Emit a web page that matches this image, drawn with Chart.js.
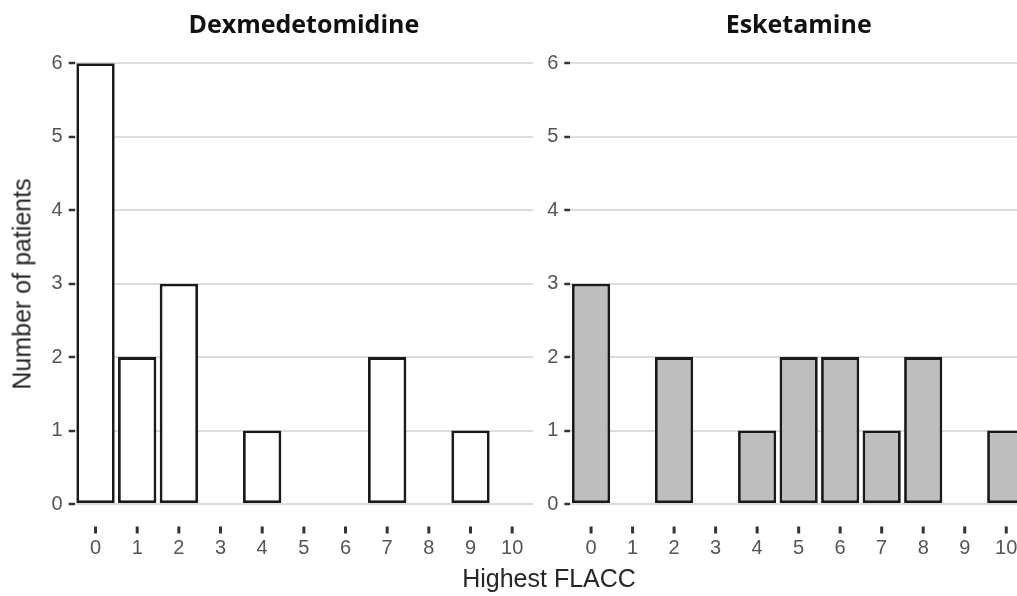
<!DOCTYPE html>
<html>
<head>
<meta charset="utf-8">
<script src="https://cdn.jsdelivr.net/npm/chart.js@4/dist/chart.umd.min.js"></script>
<style>
  html, body { margin: 0; padding: 0; background: #fff; overflow: hidden; }
  #wrap { position: relative; width: 1017px; height: 596px; overflow: hidden; }
  canvas { position: absolute; top: 0; }
  #cLeft { left: 0; }
  #cRight { left: 500px; }
  .axis-title { position: absolute; font-family: 'Liberation Sans', Arial, sans-serif; font-size: 25px; color: #262626; white-space: nowrap; }
  #yTitle { left: 22px; top: 284px; transform: translate(-50%, -50%) rotate(-90deg); }
  #xTitle { left: 549px; top: 578px; transform: translate(-50%, -50%); }
</style>
</head>
<body>
<div id="wrap">
  <canvas id="cLeft" width="533" height="596"></canvas>
  <canvas id="cRight" width="527" height="596"></canvas>
  <div class="axis-title" id="yTitle">Number of patients</div>
  <div class="axis-title" id="xTitle">Highest FLACC</div>
</div>
<script>
// ---- data ----
const flaccScores = ['0', '1', '2', '3', '4', '5', '6', '7', '8', '9', '10'];
const dexCounts = [6, 2, 3, 0, 1, 0, 0, 2, 0, 1, 0];
const eskCounts = [3, 0, 2, 0, 1, 2, 2, 1, 2, 0, 1];
const panelTitles = ['Dexmedetomidine', 'Esketamine'];
const yMax = 6;

Chart.defaults.font.family = "'Liberation Sans', Arial, sans-serif";

// small detached tick dashes under each category (ggplot style)
const xTickMarks = {
  id: 'xTickMarks',
  afterDraw(chart) {
    const sc = chart.scales.x;
    const ctx = chart.ctx;
    ctx.save();
    ctx.strokeStyle = '#333';
    ctx.lineWidth = 3;
    sc.ticks.forEach((t, i) => {
      const x = sc.getPixelForTick(i);
      ctx.beginPath();
      ctx.moveTo(x, sc.top + 22.5);
      ctx.lineTo(x, sc.top + 29.5);
      ctx.stroke();
    });
    ctx.restore();
  }
};

function makePanel(canvasId, title, counts, fill, yAxisWidth) {
  return new Chart(document.getElementById(canvasId), {
    type: 'bar',
    data: {
      labels: flaccScores,
      datasets: [{
        data: counts,
        backgroundColor: fill,
        borderColor: '#1a1a1a',
        borderWidth: 2.8,
        borderSkipped: false,
        barPercentage: 0.92,
        categoryPercentage: 1.0
      }]
    },
    options: {
      responsive: false,
      animation: false,
      layout: { padding: { top: 0, right: 0, bottom: 0, left: 0 } },
      plugins: {
        legend: { display: false },
        tooltip: { enabled: false },
        title: {
          display: true,
          text: title,
          fullSize: false,
          color: '#111',
          font: { family: "'Open Sans'", weight: 'bold', size: 25 },
          padding: { top: 11, bottom: 22.3 }
        }
      },
      scales: {
        x: {
          // tick marks themselves are drawn by xTickMarks; tickLength only pushes labels down
          grid: { display: false, drawTicks: true, tickLength: 32 },
          border: { display: false },
          ticks: { color: '#555', font: { size: 20 }, padding: 0, maxRotation: 0, autoSkip: false },
          afterFit: (s) => { s.height = 92; }
        },
        y: {
          min: 0,
          max: yMax,
          border: { display: false },
          grid: { color: '#dcdcdc', lineWidth: 2, tickLength: 6, tickColor: '#333', tickWidth: 2.5 },
          ticks: { stepSize: 1, color: '#555', font: { size: 20 }, padding: 6 },
          afterFit: (s) => { s.width = yAxisWidth; }
        }
      }
    },
    plugins: [xTickMarks]
  });
}

makePanel('cLeft', panelTitles[0], dexCounts, '#ffffff', 74.7);
makePanel('cRight', panelTitles[1], eskCounts, '#bebebe', 70.3);
</script>
</body>
</html>
